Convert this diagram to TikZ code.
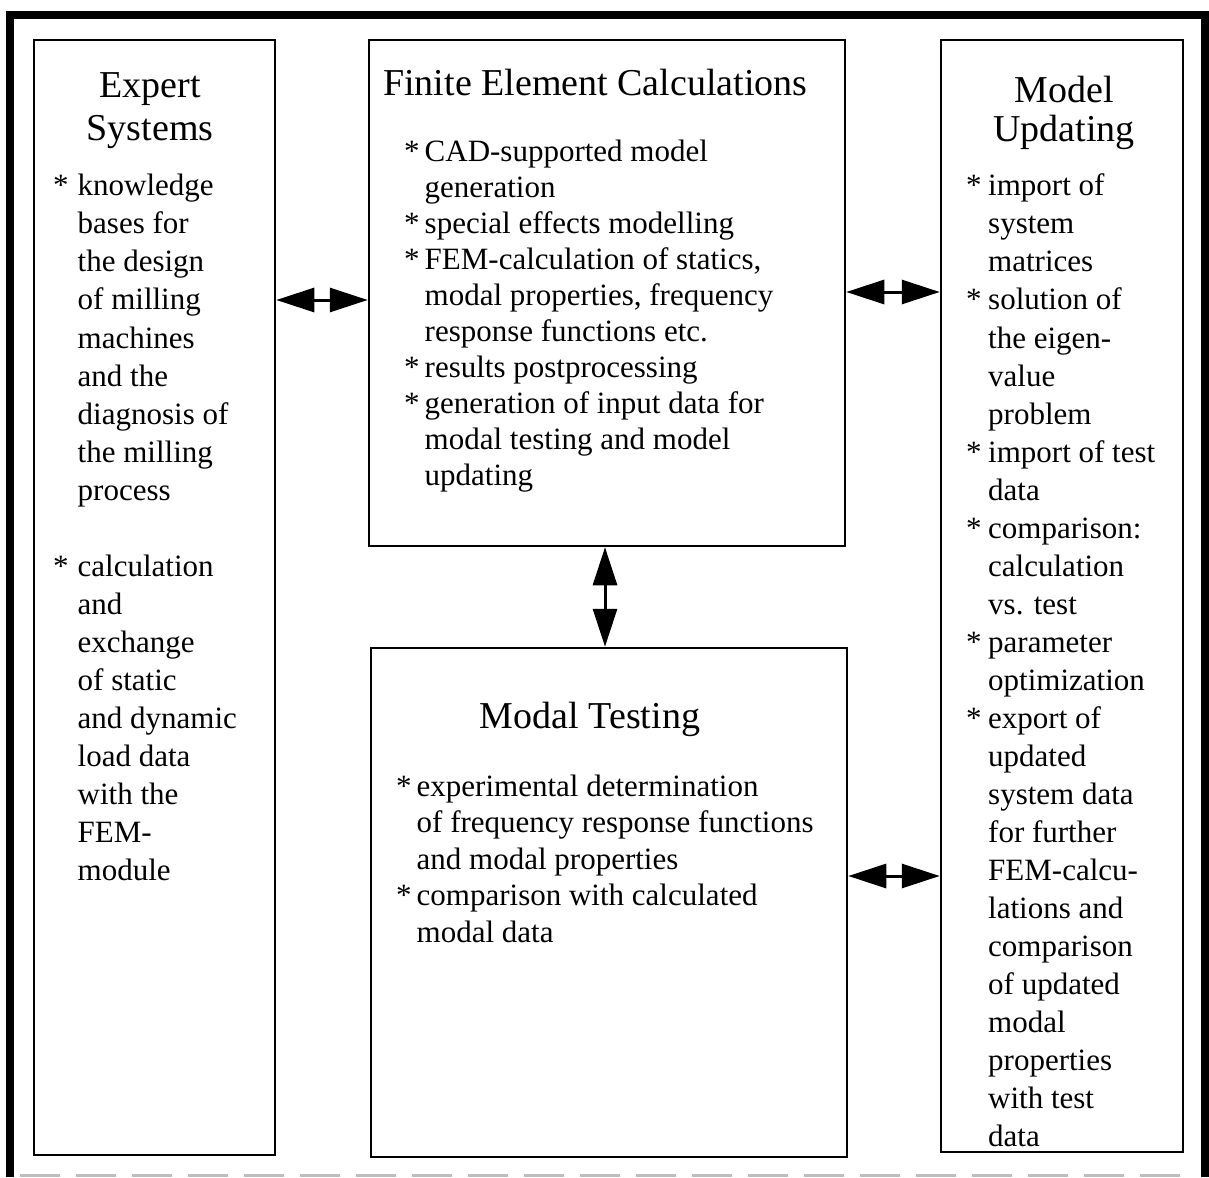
\documentclass[tikz,border=0pt]{standalone}
\usepackage{fontspec}
\setmainfont{Liberation Serif}
\usetikzlibrary{arrows.meta}
\tikzset{
  box/.style={draw, line width=2.5pt, inner sep=0pt},
  head/.style={font=\fontsize{38}{43}\selectfont, inner sep=0pt},
  body/.style={font=\fontsize{31}{38}\selectfont, inner sep=0pt, anchor=base west},
  link/.style={<->, >={Triangle[length=38pt,width=24pt]}, line width=3pt},
}
\begin{document}
\begin{tikzpicture}[x=1pt,y=-1pt]
\useasboundingbox (0,0) rectangle (1209,1177);
% outer frame
\draw[line width=8pt] (10,1177) -- (10,15) -- (1205,15) -- (1205,1177);
\draw[gray!50, line width=3pt, dash pattern=on 40pt off 16pt] (20,1175) -- (1195,1175);
% boxes
\node[box, minimum width=241, minimum height=1115] (exp) at (154.5,597.5) {};
\node[box, minimum width=476, minimum height=506] (fec) at (607,293) {};
\node[box, minimum width=476, minimum height=509] (mt) at (609,902.5) {};
\node[box, minimum width=242, minimum height=1112] (upd) at (1062,596) {};
% titles
\node[head, anchor=base] (exphead) at (150,98) {\begin{tabular}[t]{@{}c@{}}Expert\\Systems\end{tabular}};
\node[head, anchor=base west] (fechead) at (383,96) {Finite Element Calculations};
\node[head, anchor=base] (mthead) at (590,728) {Modal Testing};
\node[head, anchor=base] (updhead) at (1064,103) {\begin{tabular}[t]{@{}c@{}}Model\\[-4pt]Updating\end{tabular}};
% texts
\node[body] (exptext) at (53,196) {\begin{tabular}[t]{@{}l@{\hspace{9pt}}l@{}}
{*} & knowledge\\
  & bases for\\
  & the design\\
  & of milling\\
  & machines\\
  & and the\\
  & diagnosis of\\
  & the milling\\
  & process\\
  & \\
{*} & calculation\\
  & and\\
  & exchange\\
  & of static\\
  & and dynamic\\
  & load data\\
  & with the\\
  & FEM-\\
  & module
\end{tabular}};
\node[body, font=\fontsize{31}{35.9}\selectfont] (fectext) at (404,162) {\begin{tabular}[t]{@{}l@{\hspace{5pt}}l@{}}
{*} & CAD-supported model\\
  & generation\\
{*} & special effects modelling\\
{*} & FEM-calculation of statics,\\
  & modal properties, frequency\\
  & response functions etc.\\
{*} & results postprocessing\\
{*} & generation of input data for\\
  & modal testing and model\\
  & updating
\end{tabular}};
\node[body, font=\fontsize{31}{36.5}\selectfont] (mttext) at (396,796) {\begin{tabular}[t]{@{}l@{\hspace{5pt}}l@{}}
{*} & experimental determination\\
  & of frequency response functions\\
  & and modal properties\\
{*} & comparison with calculated\\
  & modal data
\end{tabular}};
\node[body] (updtext) at (966,196) {\begin{tabular}[t]{@{}l@{\hspace{6.5pt}}l@{}}
{*} & import of\\
  & system\\
  & matrices\\
{*} & solution of\\
  & the eigen-\\
  & value\\
  & problem\\
{*} & import of test\\
  & data\\
{*} & comparison:\\
  & calculation\\
  & vs. test\\
{*} & parameter\\
  & optimization\\
{*} & export of\\
  & updated\\
  & system data\\
  & for further\\
  & FEM-calcu-\\
  & lations and\\
  & comparison\\
  & of updated\\
  & modal\\
  & properties\\
  & with test\\
  & data
\end{tabular}};
% arrows
\coordinate (yL) at (0,300);
\coordinate (yR) at (0,292);
\coordinate (yRb) at (0,876);
\coordinate (xV) at (605,0);
\draw[link] (exp.east |- yL) -- (fec.west |- yL);
\draw[link] (fec.east |- yR) -- (upd.west |- yR);
\draw[link] (mt.east |- yRb) -- (upd.west |- yRb);
\draw[link] (fec.south -| xV) -- (mt.north -| xV);
\end{tikzpicture}
\end{document}
